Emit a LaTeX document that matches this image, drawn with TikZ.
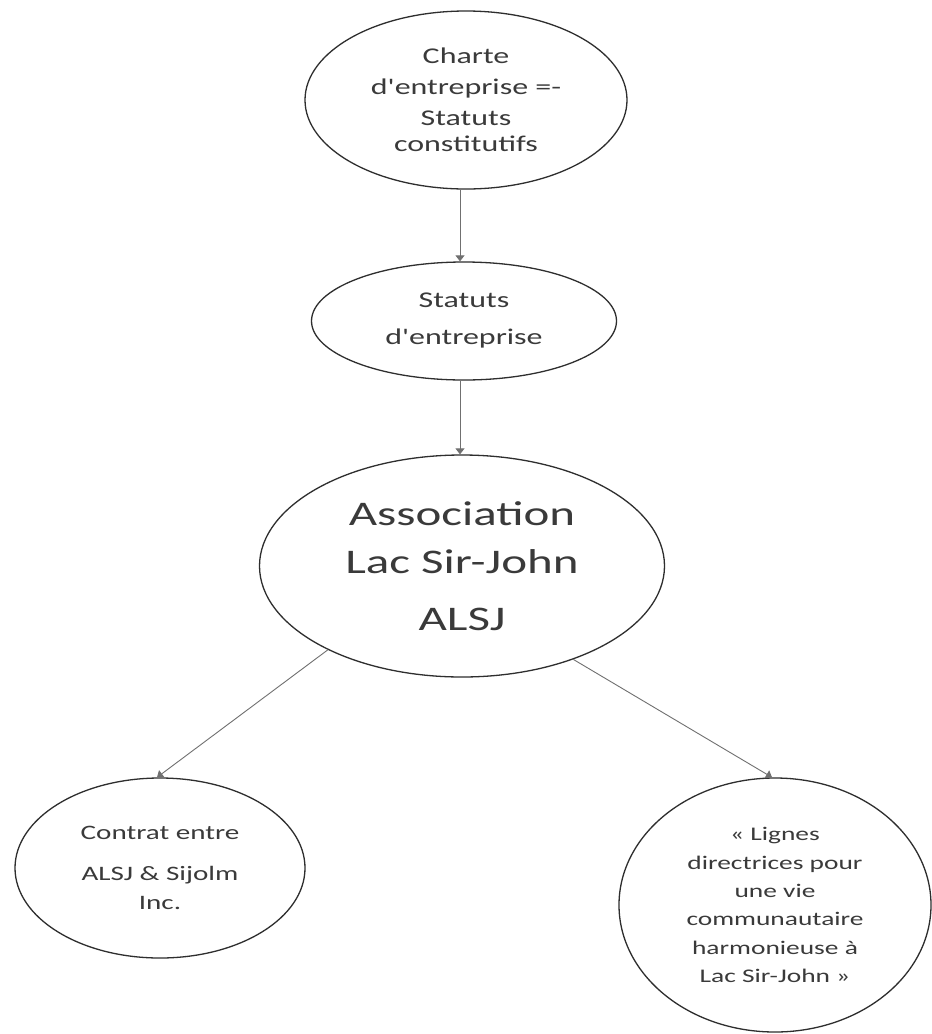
\documentclass[tikz,border=0pt]{standalone}
\usepackage{fontspec}
\setmainfont{Carlito}[FakeStretch=1.42,Ligatures=TeXOff]
\usetikzlibrary{shapes.geometric,arrows.meta}
\definecolor{txt}{HTML}{3A3A3A}
\definecolor{edge}{HTML}{2E2E2E}
\definecolor{link}{HTML}{707070}
\begin{document}
\begin{tikzpicture}[x=1pt,y=-1pt,
  oval/.style={ellipse,draw=edge,line width=1.3pt,inner sep=0pt,align=center,text=txt},
  arr/.style={draw=link,line width=0.9pt,-{Triangle[length=6pt,width=9pt]}}]
\fill[white] (0,0) rectangle (932,1034);
\useasboundingbox (0,0) rectangle (932,1034);
\node[oval,minimum width=322pt,minimum height=178pt,font=\fontsize{22.5}{31}\selectfont] (charte) at (466,100)
  {Charte\\d'entreprise =-\\Statuts\\[-5pt]constitutifs};
\node[oval,minimum width=305pt,minimum height=118pt,font=\fontsize{22.5}{37}\selectfont] (statuts) at (464,321)
  {Statuts\\d'entreprise};
\node[oval,minimum width=405pt,minimum height=222pt,font=\fontsize{34.5}{48}\selectfont] (alsj) at (462,566)
  {Association\\Lac Sir-John\\[9pt]ALSJ};
\node[oval,minimum width=290pt,minimum height=180pt,font=\fontsize{20.5}{41}\selectfont] (contrat) at (160,868)
  {Contrat entre\\ALSJ \& Sijolm\\[-12pt]Inc.};
\node[oval,minimum width=312pt,minimum height=254pt,font=\fontsize{19.3}{28.3}\selectfont] (lignes) at (775,905)
  {« Lignes\\directrices pour\\une vie\\communautaire\\harmonieuse à\\Lac Sir-John »};
\draw[arr] ([xshift=-6pt]charte.south) -- ([xshift=-4pt]statuts.north);
\draw[arr] ([xshift=-4pt]statuts.south) -- ([xshift=-2pt]alsj.north);
\draw[arr] (alsj.212) -- ([xshift=-3pt]contrat.north);
\draw[arr] (alsj.320) -- ([xshift=-3pt]lignes.north);
\end{tikzpicture}
\end{document}
